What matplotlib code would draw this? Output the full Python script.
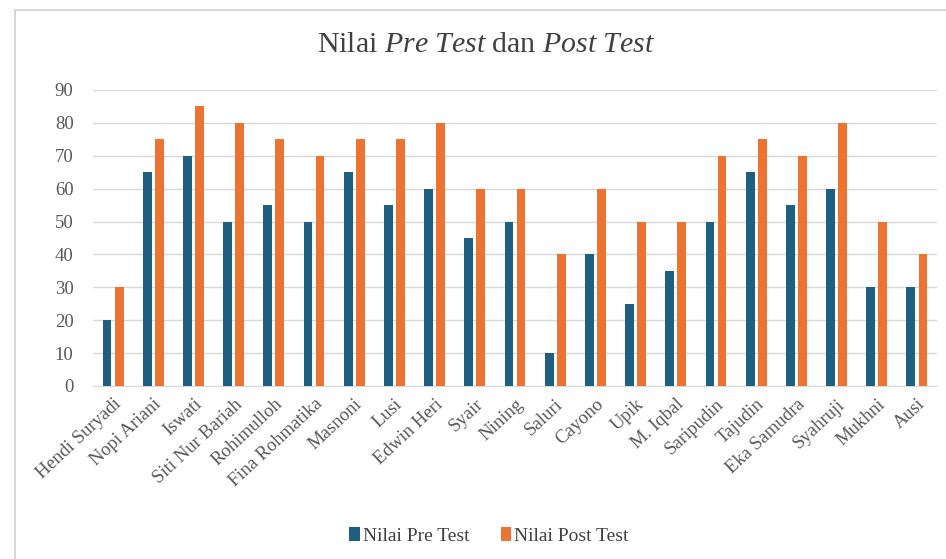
import matplotlib
matplotlib.use("Agg")
import matplotlib.pyplot as plt
import numpy as np
from matplotlib.patches import Rectangle

names = ["Hendi Suryadi", "Nopi Ariani", "Iswati", "Siti Nur Bariah", "Rohimulloh",
         "Fina Rohmatika", "Masnoni", "Lusi", "Edwin Heri", "Syair", "Nining",
         "Saluri", "Cayono", "Upik", "M. Iqbal", "Saripudin", "Tajudin",
         "Eka Samudra", "Syahruji", "Mukhni", "Ausi"]
pre_test = [20, 65, 70, 50, 55, 50, 65, 55, 60, 45, 50, 10, 40, 25, 35, 50, 65, 55, 60, 30, 30]
post_test = [30, 75, 85, 80, 75, 70, 75, 75, 80, 60, 60, 40, 60, 50, 50, 70, 75, 70, 80, 50, 40]

plt.rcParams['font.family'] = 'Liberation Serif'
plt.rcParams['mathtext.fontset'] = 'custom'
plt.rcParams['mathtext.rm'] = 'Liberation Serif'
plt.rcParams['mathtext.it'] = 'Liberation Serif:italic'

fig = plt.figure(figsize=(9.46, 5.59), dpi=100)
ax = fig.add_axes([93/946, 1 - 386/559, (937 - 93)/946, (386 - 90)/559])

# light frame around the chart area
fig.patches.append(Rectangle((15/946, -0.01), 1.0, 1 - 10/559 + 0.01,
                             transform=fig.transFigure, fill=False,
                             edgecolor='#d0d0d0', linewidth=1.2))

x = np.arange(len(names))
w = 0.22
ax.bar(x - 0.15, pre_test, width=w, color='#1f5f82', label='Nilai Pre Test', zorder=3)
ax.bar(x + 0.15, post_test, width=w, color='#ec7332', label='Nilai Post Test', zorder=3)

ax.set_xlim(-0.5, len(names) - 0.5)
ax.set_ylim(0, 90)
ax.set_yticks(range(0, 91, 10))
ax.yaxis.grid(True, color='#d9d9d9', linewidth=1, zorder=0)
ax.set_xticks(x)
ax.set_xticklabels(names, rotation=43, ha='right', rotation_mode='anchor')
ax.tick_params(axis='both', length=0, labelsize=13.5, colors='#595959')
ax.tick_params(axis='x', pad=7)
ax.tick_params(axis='y', pad=14)
for s in ['top', 'right', 'left']:
    ax.spines[s].set_visible(False)
ax.spines['bottom'].set_color('#d9d9d9')

fig.text(0.514, 1 - 45/559, r"Nilai $\it{Pre\ Test}$ dan $\it{Post\ Test}$",
         ha='center', va='center', fontsize=21.5, color='#404040')

fig.legend(loc='center', bbox_to_anchor=(0.517, 1 - 536/559), ncol=2, frameon=False,
           fontsize=14, handlelength=0.55, handleheight=0.75, handletextpad=0.15,
           columnspacing=1.6, labelcolor='#404040')

fig.savefig("out.png", dpi=100, facecolor='white')
